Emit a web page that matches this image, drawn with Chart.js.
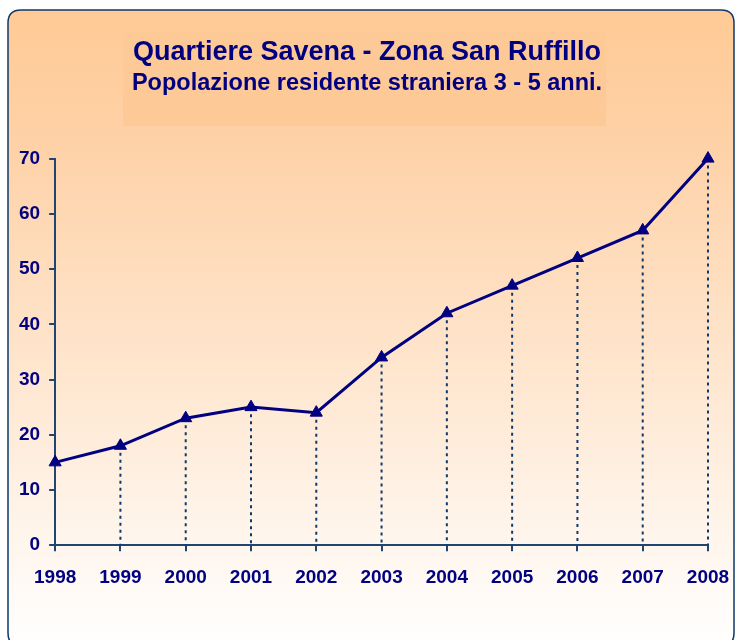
<!DOCTYPE html>
<html>
<head>
<meta charset="utf-8">
<script src="https://cdn.jsdelivr.net/npm/chart.js@4.4.0/dist/chart.umd.min.js"></script>
<style>
    body { margin: 0; background: #ffffff; }
    #wrap { width: 735px; height: 640px; }
</style>
</head>
<body>
<div id="wrap"><canvas id="popChart" width="735" height="640"></canvas></div>
<script>
const years = ['1998', '1999', '2000', '2001', '2002', '2003', '2004', '2005', '2006', '2007', '2008'];
const residents = [15, 18, 23, 25, 24, 34, 42, 47, 52, 57, 70];
const yTicks = [0, 10, 20, 30, 40, 50, 60, 70];

const navy = '#000080';
const axisColor = '#1f4670';
const fontFamily = 'Liberation Sans, Arial, sans-serif';

// rounded frame with peach gradient + title box behind the title
const framePlugin = {
    id: 'frame',
    beforeDraw(chart) {
        const c = chart.ctx;
        c.save();
        const x = 8, y = 10, w = 726, h = 636, r = 13;
        const grad = c.createLinearGradient(0, y, 0, y + h);
        grad.addColorStop(0, '#ffca95');
        grad.addColorStop(0.2, '#fed1a6');
        grad.addColorStop(1, '#ffffff');
        c.beginPath();
        c.moveTo(x + r, y);
        c.lineTo(x + w - r, y);
        c.quadraticCurveTo(x + w, y, x + w, y + r);
        c.lineTo(x + w, y + h - r);
        c.quadraticCurveTo(x + w, y + h, x + w - r, y + h);
        c.lineTo(x + r, y + h);
        c.quadraticCurveTo(x, y + h, x, y + h - r);
        c.lineTo(x, y + r);
        c.quadraticCurveTo(x, y, x + r, y);
        c.closePath();
        c.fillStyle = grad;
        c.fill();
        c.lineWidth = 1.5;
        c.strokeStyle = '#0d3a6a';
        c.stroke();

        c.fillStyle = '#fdc996';
        c.fillRect(123, 33, 483, 93);
        c.restore();
    }
};

// dotted drop lines from each point down to the x axis
const dropLines = {
    id: 'dropLines',
    beforeDatasetsDraw(chart) {
        const c = chart.ctx;
        const meta = chart.getDatasetMeta(0);
        const y0 = chart.scales.y.getPixelForValue(0);
        c.save();
        c.strokeStyle = '#0d3a6a';
        c.lineWidth = 2;
        c.setLineDash([3, 4]);
        meta.data.forEach(function(pt, i) {
            if (i === 0) return;
            c.beginPath();
            c.moveTo(pt.x, pt.y);
            c.lineTo(pt.x, y0);
            c.stroke();
        });
        c.restore();
    }
};

const ctx = document.getElementById('popChart');

new Chart(ctx, {
    type: 'line',
    data: {
        labels: years,
        datasets: [{
            label: 'Popolazione',
            data: residents,
            borderColor: navy,
            backgroundColor: navy,
            borderWidth: 3,
            tension: 0,
            fill: false,
            clip: false,
            pointStyle: 'triangle',
            pointRadius: 7,
            pointBackgroundColor: navy,
            pointBorderColor: navy,
            pointBorderWidth: 1
        }]
    },
    options: {
        responsive: false,
        animation: false,
        layout: {
            padding: { top: 0, left: 10, right: 11, bottom: 36 }
        },
        plugins: {
            legend: { display: false },
            tooltip: { enabled: false },
            title: {
                display: true,
                text: 'Quartiere Savena - Zona San Ruffillo',
                color: navy,
                font: { family: fontFamily, size: 27, weight: 'bold' },
                padding: { top: 36, bottom: 1 }
            },
            subtitle: {
                display: true,
                text: 'Popolazione residente straniera 3 - 5 anni.',
                color: navy,
                font: { family: fontFamily, size: 23.5, weight: 'bold' },
                padding: { top: 0, bottom: 61 }
            }
        },
        scales: {
            x: {
                offset: false,
                afterFit: function(scale) {
                    scale.paddingRight = 27;
                },
                grid: {
                    display: true,
                    drawOnChartArea: false,
                    drawTicks: true,
                    tickLength: 6,
                    color: axisColor,
                    lineWidth: 2
                },
                border: { display: true, color: axisColor, width: 2 },
                ticks: {
                    color: navy,
                    padding: 15,
                    maxRotation: 0,
                    font: { family: fontFamily, size: 19, weight: 'bold' }
                }
            },
            y: {
                min: yTicks[0],
                max: yTicks[yTicks.length - 1],
                afterBuildTicks: function(axis) {
                    axis.ticks = yTicks.map(function(v) { return { value: v }; });
                },
                grid: {
                    display: true,
                    drawOnChartArea: false,
                    drawTicks: true,
                    tickLength: 6,
                    color: axisColor,
                    lineWidth: 2
                },
                border: { display: true, color: axisColor, width: 2 },
                ticks: {
                    color: navy,
                    padding: 9,
                    font: { family: fontFamily, size: 19, weight: 'bold' }
                }
            }
        }
    },
    plugins: [framePlugin, dropLines]
});
</script>
</body>
</html>
